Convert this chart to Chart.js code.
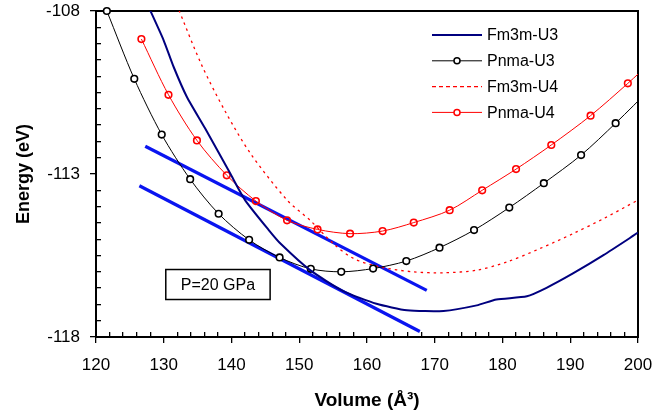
<!DOCTYPE html>
<html>
<head>
<meta charset="utf-8">
<script src="https://cdn.jsdelivr.net/npm/chart.js@4"></script>
<style>
  html, body { margin: 0; padding: 0; background: #fff; }
</style>
</head>
<body>
<canvas id="chart" width="669" height="419"></canvas>
<script>
// values
const fm3mU3Vol = [127.6, 129.97, 131.45, 133.4, 136.1, 139.8, 142.0, 145.5, 147.3, 151.6, 156.5, 161.4, 165.9, 171.3, 176.2, 179.1, 183.6, 186.5, 190.4, 194.9, 200];
const fm3mU3E   = [-107.8, -108.89, -109.71, -110.63, -111.6, -112.98, -113.8, -114.72, -115.15, -115.95, -116.59, -116.98, -117.18, -117.2, -117.03, -116.85, -116.75, -116.49, -116.05, -115.49, -114.8];

const pnmaU3Vol = [121.6, 125.65, 129.7, 133.9, 138.1, 142.6, 147.1, 151.7, 156.2, 160.9, 165.8, 170.7, 175.8, 181.0, 186.1, 191.6, 196.7, 202.0];
const pnmaU3E   = [-108.0, -110.08, -111.79, -113.16, -114.22, -115.02, -115.56, -115.91, -116.0, -115.9, -115.67, -115.26, -114.72, -114.03, -113.28, -112.42, -111.44, -110.35];

const fm3mU4Vol = [131.9, 135.6, 139.1, 142.8, 148.2, 151.6, 155.0, 158.0, 161.9, 166.8, 171.3, 176.2, 180.6, 185.5, 190.4, 194.9, 200];
const fm3mU4E   = [-107.8, -109.66, -111.09, -112.37, -113.8, -114.42, -115.13, -115.59, -115.85, -116.0, -116.03, -115.95, -115.7, -115.29, -114.83, -114.37, -113.8];

const pnmaU4Vol = [126.7, 130.7, 134.9, 139.3, 143.6, 148.2, 152.7, 157.5, 162.3, 166.9, 172.2, 177.0, 182.0, 187.2, 193.0, 198.5, 202.0];
const pnmaU4E   = [-108.86, -110.57, -111.97, -113.04, -113.83, -114.42, -114.7, -114.83, -114.75, -114.49, -114.11, -113.5, -112.85, -112.11, -111.21, -110.22, -109.55];

// common tangent lines
const tangentAVol = [127.27, 168.82];
const tangentAE   = [-112.15, -116.57];
const tangentBVol = [126.4, 167.8];
const tangentBE   = [-113.36, -117.83];

const xTicks = [120, 130, 140, 150, 160, 170, 180, 190, 200];
const yTicks = [-118, -113, -108];
const pressureLabel = 'P=20 GPa';

// minor tick positions (every 2 on x, every 0.5 on y)
const xMinorTicks = [];
for (let v = 122; v < 200; v += 2) if (v % 10 !== 0) xMinorTicks.push(v);
const yMinorTicks = [];
for (let i = 1; i < 20; i++) if (i !== 10) yMinorTicks.push(-118 + i * 0.5);

const NAVY = '#00007f';
const BLUE = '#0a14f0';
const RED = '#ff0000';
const FONT = '"Liberation Sans", Arial, sans-serif';

function pts(xs, ys) {
    return xs.map((x, i) => ({ x: x, y: ys[i] }));
}

function drawPressureBox(ctx, xs, ys) {
    const bx1 = xs.getPixelForValue(130.3), bx2 = xs.getPixelForValue(145.7);
    const by1 = ys.getPixelForValue(-115.93), by2 = ys.getPixelForValue(-116.85);
    ctx.fillStyle = '#fff';
    ctx.fillRect(bx1, by1, bx2 - bx1, by2 - by1);
    ctx.strokeStyle = '#000';
    ctx.lineWidth = 1.5;
    ctx.strokeRect(bx1, by1, bx2 - bx1, by2 - by1);
    ctx.fillStyle = '#000';
    ctx.font = '16px ' + FONT;
    ctx.textAlign = 'center';
    ctx.textBaseline = 'middle';
    ctx.fillText(pressureLabel, (bx1 + bx2) / 2, (by1 + by2) / 2 + 1);
}

function drawLegend(ctx, datasets) {
    const legendX = 432, legendW = 50, textX = 487;
    let ly = 35;
    datasets.forEach(ds => {
        if (!ds.inLegend) return;
        ctx.beginPath();
        ctx.strokeStyle = ds.borderColor;
        ctx.lineWidth = ds.borderWidth;
        ctx.setLineDash(ds.legendDash || []);
        ctx.moveTo(legendX, ly);
        ctx.lineTo(legendX + legendW, ly);
        ctx.stroke();
        ctx.setLineDash([]);
        if (ds.pointRadius > 0) {
            ctx.beginPath();
            ctx.arc(legendX + legendW / 2, ly, 3, 0, Math.PI * 2);
            ctx.fillStyle = '#fff';
            ctx.fill();
            ctx.lineWidth = 1.5;
            ctx.strokeStyle = ds.pointBorderColor;
            ctx.stroke();
        }
        ctx.fillStyle = '#000';
        ctx.font = '16px ' + FONT;
        ctx.textAlign = 'left';
        ctx.textBaseline = 'middle';
        ctx.fillText(ds.label, textX, ly + 1);
        ly += 25.8;
    });
}

const extrasPlugin = {
    id: 'extras',
    afterDraw(chart) {
        const ctx = chart.ctx;
        ctx.save();
        drawPressureBox(ctx, chart.scales.x, chart.scales.y);
        drawLegend(ctx, chart.data.datasets);
        ctx.restore();
    }
};

const edgeClip = { left: 0, top: 6, right: 0, bottom: 0 };
const tickGrid = len => ({
    display: true,
    drawOnChartArea: false,
    drawTicks: true,
    tickLength: len,
    color: '#000',
    lineWidth: 1.3
});
const frameBorder = { display: true, color: '#000', width: 2 };
const noBorder = { display: false };

new Chart(document.getElementById('chart'), {
    type: 'scatter',
    data: {
        datasets: [{
            label: 'Fm3m-U3',
            inLegend: true,
            data: pts(fm3mU3Vol, fm3mU3E),
            showLine: true,
            borderColor: NAVY,
            borderWidth: 2,
            pointRadius: 0,
            tension: 0.2,
            clip: 0
        }, {
            label: 'Pnma-U3',
            inLegend: true,
            data: pts(pnmaU3Vol, pnmaU3E),
            showLine: true,
            borderColor: '#000',
            borderWidth: 1,
            pointRadius: 3.3,
            pointBorderWidth: 1.6,
            pointBorderColor: '#000',
            pointBackgroundColor: '#fff',
            tension: 0.3,
            clip: edgeClip
        }, {
            label: 'Fm3m-U4',
            inLegend: true,
            data: pts(fm3mU4Vol, fm3mU4E),
            showLine: true,
            borderColor: RED,
            borderWidth: 1.3,
            borderDash: [2.5, 4],
            legendDash: [4, 3],
            pointRadius: 0,
            tension: 0.3,
            clip: 0
        }, {
            label: 'Pnma-U4',
            inLegend: true,
            data: pts(pnmaU4Vol, pnmaU4E),
            showLine: true,
            borderColor: RED,
            borderWidth: 1,
            pointRadius: 3.3,
            pointBorderWidth: 1.6,
            pointBorderColor: RED,
            pointBackgroundColor: 'rgba(255,255,255,0)',
            tension: 0.3,
            clip: edgeClip
        }, {
            label: 'tangent 1',
            data: pts(tangentAVol, tangentAE),
            showLine: true,
            borderColor: BLUE,
            borderWidth: 3.2,
            pointRadius: 0
        }, {
            label: 'tangent 2',
            data: pts(tangentBVol, tangentBE),
            showLine: true,
            borderColor: BLUE,
            borderWidth: 3.2,
            pointRadius: 0
        }]
    },
    options: {
        responsive: false,
        animation: false,
        events: [],
        layout: { padding: { left: 0, top: 11, right: 31, bottom: 0 } },
        plugins: {
            legend: { display: false },
            tooltip: { enabled: false }
        },
        scales: {
            x: {
                type: 'linear',
                position: 'bottom',
                weight: 1,
                min: 120,
                max: 200,
                afterBuildTicks: scale => { scale.ticks = xTicks.map(v => ({ value: v })); },
                afterFit: scale => {
                    scale.height = 82;
                    scale.paddingLeft = 0;
                    scale.paddingRight = 0;
                },
                grid: tickGrid(6),
                border: frameBorder,
                ticks: {
                    color: '#000',
                    padding: 12,
                    maxRotation: 0,
                    font: { family: FONT, size: 17 }
                },
                title: {
                    display: true,
                    text: 'Volume (Å³)',
                    color: '#000',
                    padding: { top: 0, bottom: 7 },
                    font: { family: FONT, size: 19, weight: 'bold' }
                }
            },
            xMinor: {
                type: 'linear',
                position: 'bottom',
                weight: 0,
                min: 120,
                max: 200,
                afterBuildTicks: scale => { scale.ticks = xMinorTicks.map(v => ({ value: v })); },
                afterFit: scale => {
                    scale.height = 0;
                    scale.paddingLeft = 0;
                    scale.paddingRight = 0;
                },
                grid: tickGrid(-5),
                border: noBorder,
                ticks: { display: false }
            },
            xTop: {
                type: 'linear',
                position: 'top',
                min: 120,
                max: 200,
                afterFit: scale => {
                    scale.height = 0;
                    scale.paddingLeft = 0;
                    scale.paddingRight = 0;
                },
                grid: { display: false },
                border: frameBorder,
                ticks: { display: false }
            },
            y: {
                type: 'linear',
                position: 'left',
                weight: 1,
                min: -118,
                max: -108,
                afterBuildTicks: scale => { scale.ticks = yTicks.map(v => ({ value: v })); },
                afterFit: scale => {
                    scale.width = 96;
                    scale.paddingTop = 0;
                    scale.paddingBottom = 0;
                },
                grid: tickGrid(6),
                border: frameBorder,
                ticks: {
                    color: '#000',
                    padding: 10,
                    font: { family: FONT, size: 17 }
                },
                title: {
                    display: true,
                    text: 'Energy (eV)',
                    color: '#000',
                    padding: { top: 13, bottom: 0 },
                    font: { family: FONT, size: 18, weight: 'bold' }
                }
            },
            yMinor: {
                type: 'linear',
                position: 'left',
                weight: 0,
                min: -118,
                max: -108,
                afterBuildTicks: scale => { scale.ticks = yMinorTicks.map(v => ({ value: v })); },
                afterFit: scale => {
                    scale.width = 0;
                    scale.paddingTop = 0;
                    scale.paddingBottom = 0;
                },
                grid: tickGrid(-5),
                border: noBorder,
                ticks: { display: false }
            },
            yRight: {
                type: 'linear',
                position: 'right',
                min: -118,
                max: -108,
                afterFit: scale => {
                    scale.width = 0;
                    scale.paddingTop = 0;
                    scale.paddingBottom = 0;
                },
                grid: { display: false },
                border: frameBorder,
                ticks: { display: false }
            }
        }
    },
    plugins: [extrasPlugin]
});
</script>
</body>
</html>
